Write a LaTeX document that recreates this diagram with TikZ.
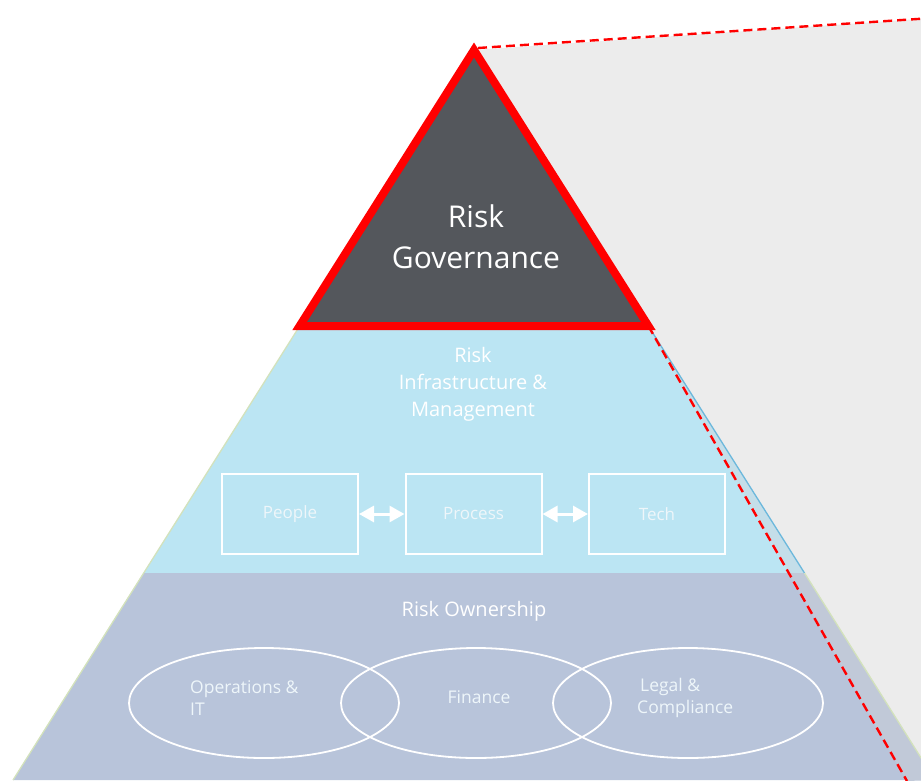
\documentclass[tikz,border=0pt]{standalone}
\usepackage{fontspec}
\setmainfont{Open Sans}
\usetikzlibrary{arrows.meta,shapes.geometric}
\definecolor{dkgrey}{HTML}{54575C}
\definecolor{bandblue}{HTML}{BBE5F3}
\definecolor{bandlav}{HTML}{B8C4DA}
\definecolor{edgegreen}{HTML}{D3E2BC}
\definecolor{edgeblue}{HTML}{6CB8DC}
\definecolor{calloutgrey}{HTML}{ECECEC}
\definecolor{stripblue}{HTML}{C4DEE9}
\definecolor{striplav}{HTML}{C1C9D8}
\definecolor{softwhite}{HTML}{EEF6FA}
\tikzset{
  stepbox/.style={draw=white, line width=2pt, minimum width=136pt, minimum height=80pt, inner sep=0pt,
    text=softwhite, font=\fontsize{17}{20}\selectfont},
  ringshape/.style={draw=white, line width=1.8pt, ellipse, minimum width=270pt, minimum height=110pt, inner sep=0pt},
  ringtext/.style={text=softwhite, font=\fontsize{17.5}{22}\selectfont, align=left, inner sep=0pt},
  twoway/.style={white, line width=3pt, {Triangle[width=16pt,length=15pt]}-{Triangle[width=16pt,length=15pt]}},
  reddash/.style={red, line width=2.4pt, dash pattern=on 9pt off 5pt},
  titletext/.style={text=white, align=center, inner sep=0pt}
}
\begin{document}
\begin{tikzpicture}[x=1pt,y=-1pt]
\useasboundingbox (0,0) rectangle (921,780);
\clip (0,0) rectangle (921,780);
% pyramid geometry
\coordinate (P) at (474,50);
\coordinate (L1) at (299.6,326);
\coordinate (R1) at (648.4,326);
\coordinate (L2) at (143.5,573);
\coordinate (R2) at (804.5,573);
\coordinate (L3) at (13,780);
\coordinate (R3) at (935,780);
\coordinate (TR) at (940,17.5);
\coordinate (DB) at (907,781);
\coordinate (D2) at (intersection of R1--DB and L2--R2);
% grey call-out area
\fill[calloutgrey] (P) -- (TR) -- (945,790) -- (R3) -- cycle;
% bands
\fill[bandblue] (L1) -- (R1) -- (R2) -- (L2) -- cycle;
\fill[bandlav] (L2) -- (R2) -- (R3) -- (L3) -- cycle;
\fill[stripblue] (R1) -- (R2) -- (D2) -- cycle;
\fill[striplav] (D2) -- (R2) -- (R3) -- (DB) -- cycle;
\draw[edgegreen, line width=1.3pt] (P) -- (L3);
\draw[edgeblue, line width=1.3pt] (R1) -- (R2);
\draw[edgegreen, line width=1.3pt] (R2) -- (R3);
% top triangle
\draw[red, fill=dkgrey, line width=8pt, line join=miter] (P) -- (R1) -- (L1) -- cycle;
\node[titletext, font=\fontsize{30}{41}\selectfont] (gov) at (476,237) {Risk\\Governance};
\node[titletext, font=\fontsize{20}{27}\selectfont] (infra) at (473,384) {Risk\\Infrastructure \&\\Management};
% boxes
\node[stepbox] (people) at (290,514) {People};
\node[stepbox] (process) at (473.5,514) {Process};
\node[stepbox] (tech) at (657,514) {Tech};
\draw[twoway] (people.east) -- (process.west);
\draw[twoway] (process.east) -- (tech.west);
% ownership
\node[titletext, font=\fontsize{20}{24}\selectfont] (own) at (474,611) {Risk Ownership};
\node[ringshape] (ops) at (264,703) {};
\node[ringshape] (fin) at (476,703) {};
\node[ringshape] (legal) at (688,703) {};
\node[ringtext, anchor=west] (opst) at (190,698) {Operations \&\\IT};
\node[ringtext] (fint) at (479,697) {Finance};
\node[ringtext, anchor=west] (legalt) at (637,698) {\hspace{3pt}Legal \&\\Compliance};
% dashed call-out lines
\coordinate (P2) at (478,48);
\draw[reddash] (P2) -- (TR);
\draw[reddash] (R1) -- (DB);
\end{tikzpicture}
\end{document}
